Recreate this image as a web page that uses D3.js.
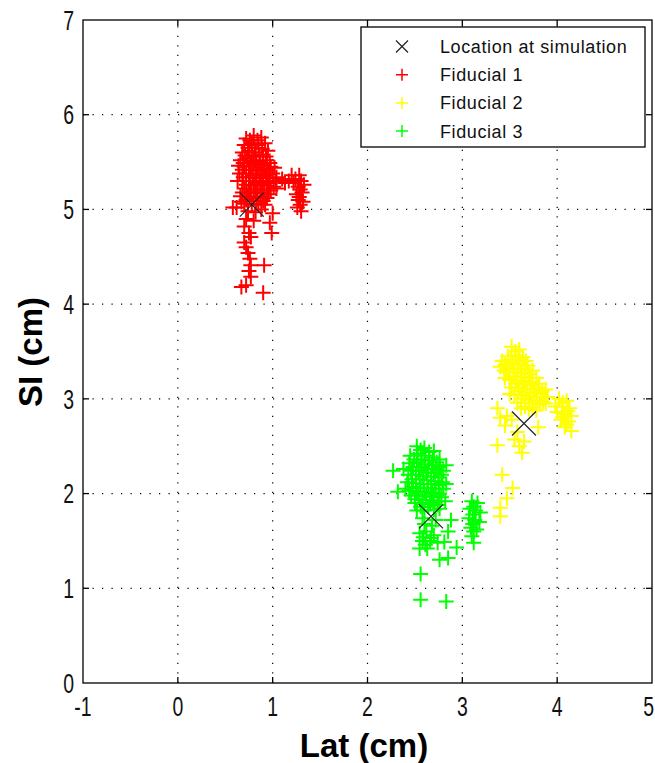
<!DOCTYPE html>
<html><head><meta charset="utf-8">
<script src="https://cdn.jsdelivr.net/npm/d3@7"></script>
<style>body{margin:0;background:#fff}svg{display:block}</style>
</head><body>
<svg id="c" width="655" height="763"></svg>
<script>
// ---- data ----
const xTicks = [-1, 0, 1, 2, 3, 4, 5];
const yTicks = [0, 1, 2, 3, 4, 5, 6, 7];
const legendLabels = ["Location at simulation", "Fiducial 1", "Fiducial 2", "Fiducial 3"];
const simLocations = [[0.78, 5.05], [3.65, 2.74], [2.67, 1.76]];
const fiducial1 = [
 [0.72,5.75],[0.80,5.78],[0.88,5.76],[0.92,5.70],[0.70,5.68],[0.78,5.70],[0.85,5.68],[0.95,5.62],
 [0.68,5.60],[0.75,5.62],[0.82,5.60],[0.90,5.58],[0.66,5.52],[0.73,5.54],[0.80,5.52],[0.87,5.50],
 [0.94,5.52],[0.70,5.45],[0.77,5.46],[0.84,5.44],[0.91,5.42],[0.98,5.45],[0.65,5.38],[0.72,5.38],
 [0.79,5.36],[0.86,5.38],[0.93,5.36],[1.00,5.38],[0.68,5.30],[0.75,5.30],[0.82,5.28],[0.89,5.30],
 [0.96,5.28],[1.03,5.30],[1.10,5.32],[1.17,5.30],[0.70,5.22],[0.77,5.22],[0.84,5.20],[0.91,5.22],
 [0.98,5.20],[0.66,5.14],[0.73,5.14],[0.80,5.12],[0.87,5.14],[0.94,5.12],[0.70,5.06],[0.78,5.05],
 [0.85,5.06],[0.92,5.05],[0.62,5.02],[0.74,4.98],[0.82,4.97],[0.88,5.00],
 [0.76,5.73],[0.84,5.73],[0.74,5.65],[0.81,5.65],[0.89,5.64],[0.71,5.57],[0.78,5.57],[0.86,5.56],
 [0.93,5.56],[0.69,5.49],[0.76,5.50],[0.83,5.48],[0.90,5.47],[0.97,5.49],[0.68,5.42],[0.75,5.42],
 [0.82,5.41],[0.88,5.41],[0.95,5.41],[0.69,5.34],[0.76,5.34],[0.83,5.33],[0.90,5.34],[0.97,5.33],
 [1.04,5.34],[1.13,5.28],[0.72,5.26],[0.80,5.25],[0.87,5.26],[0.94,5.25],[1.01,5.24],[0.68,5.18],
 [0.75,5.18],[0.82,5.17],[0.89,5.18],[0.96,5.16],[0.72,5.10],[0.83,5.09],[0.90,5.09],[0.67,5.08],
 [0.64,5.46],[0.63,5.30],[1.02,5.44],[1.04,5.22],
 [1.24,5.32],[1.30,5.30],[1.27,5.24],[1.33,5.26],[1.25,5.16],[1.31,5.18],[1.27,5.10],[1.32,5.08],
 [1.26,5.02],[1.30,4.98],[1.20,5.36],[1.28,5.36],[1.22,5.28],[1.29,5.21],[1.28,5.13],[1.29,5.05],
 [0.58,5.02],[1.00,4.96],[0.70,4.82],[0.97,4.86],[0.99,4.75],[0.77,4.71],[0.70,4.65],[0.74,4.54],
 [0.77,4.41],[0.91,4.41],[0.77,4.29],[0.67,4.18],[0.90,4.12],[0.72,4.90],[0.80,4.88],[0.75,4.75],
 [0.72,4.60],[0.76,4.48],[0.75,4.35],[0.72,4.20]
];
const fiducial2 = [
 [3.52,3.55],[3.60,3.52],[3.48,3.45],[3.56,3.46],[3.64,3.44],[3.45,3.36],[3.53,3.38],[3.61,3.36],
 [3.69,3.35],[3.74,3.30],[3.47,3.28],[3.55,3.28],[3.63,3.27],[3.71,3.26],[3.50,3.20],[3.58,3.20],
 [3.66,3.19],[3.74,3.18],[3.81,3.16],[3.52,3.12],[3.60,3.12],[3.68,3.11],[3.76,3.10],[3.84,3.08],
 [3.55,3.04],[3.63,3.04],[3.71,3.03],[3.79,3.02],[3.86,3.02],[3.58,2.96],[3.66,2.96],[3.74,2.95],
 [3.82,2.94],[3.62,2.90],[3.70,2.89],[3.78,2.88],
 [3.56,3.50],[3.51,3.41],[3.59,3.41],[3.67,3.40],[3.49,3.32],[3.58,3.32],[3.66,3.31],[3.72,3.22],
 [3.54,3.24],[3.62,3.23],[3.70,3.22],[3.78,3.22],[3.56,3.16],[3.64,3.15],[3.72,3.14],[3.80,3.12],
 [3.59,3.08],[3.67,3.07],[3.75,3.06],[3.83,3.05],[3.62,3.00],[3.70,2.99],[3.78,2.98],[3.85,2.97],
 [3.66,2.92],[3.74,2.91],[3.44,3.30],[3.42,3.40],[3.88,3.10],[3.40,3.34],[3.45,3.22],[3.90,3.02],
 [3.88,2.95],[3.50,3.05],
 [4.02,3.00],[4.10,2.98],[4.05,2.92],[4.13,2.90],[4.00,2.86],[4.08,2.84],[4.15,2.82],[4.04,2.78],
 [4.12,2.76],[4.08,2.70],[4.15,2.66],[3.98,2.92],[4.06,2.96],[4.11,2.87],[4.06,2.81],[4.10,2.73],
 [3.37,2.90],[3.37,2.51],[3.45,2.72],[3.55,2.57],[3.63,2.43],[3.42,2.20],[3.53,2.06],[3.47,1.95],
 [3.40,1.85],[3.40,1.76],[3.80,2.70],[3.47,2.82],[3.58,2.65],[3.60,2.50],[3.65,2.55],[3.52,2.78],
 [3.40,2.80]
];
const fiducial3 = [
 [2.52,2.50],[2.60,2.48],[2.70,2.45],[2.45,2.40],[2.53,2.42],[2.61,2.40],[2.69,2.38],[2.76,2.36],
 [2.44,2.32],[2.52,2.33],[2.60,2.31],[2.68,2.30],[2.76,2.28],[2.46,2.24],[2.54,2.24],[2.62,2.22],
 [2.70,2.22],[2.78,2.20],[2.47,2.15],[2.55,2.15],[2.63,2.14],[2.71,2.13],[2.79,2.12],[2.48,2.07],
 [2.56,2.06],[2.64,2.06],[2.72,2.05],[2.80,2.05],[2.46,1.98],[2.54,1.98],[2.62,1.97],[2.70,1.97],
 [2.78,1.96],[2.50,1.90],[2.58,1.89],[2.66,1.90],[2.74,1.88],[2.52,1.82],[2.60,1.82],[2.76,1.84],
 [2.56,2.46],[2.65,2.44],[2.49,2.36],[2.57,2.36],[2.65,2.35],[2.73,2.33],[2.48,2.28],[2.56,2.28],
 [2.64,2.26],[2.72,2.26],[2.80,2.24],[2.43,2.20],[2.51,2.20],[2.59,2.18],[2.67,2.18],[2.75,2.17],
 [2.51,2.11],[2.59,2.10],[2.67,2.10],[2.75,2.09],[2.83,2.10],[2.44,2.03],[2.52,2.02],[2.60,2.02],
 [2.68,2.01],[2.76,2.00],[2.50,1.94],[2.58,1.93],[2.66,1.93],[2.74,1.92],[2.82,1.92],[2.56,1.86],
 [2.64,1.86],[2.70,1.83],[2.42,2.12],[2.83,2.30],
 [2.55,1.58],[2.62,1.60],[2.70,1.56],[2.58,1.50],[2.66,1.50],[2.74,1.48],[2.55,1.42],[2.63,1.42],
 [2.60,1.68],[2.68,1.66],[2.72,1.72],[2.58,1.74],[2.59,1.54],[2.67,1.53],[2.61,1.46],
 [3.10,1.92],[3.16,1.90],[3.08,1.84],[3.14,1.82],[3.19,1.80],[3.07,1.74],[3.13,1.72],[3.18,1.70],
 [3.09,1.64],[3.15,1.62],[3.10,1.55],[3.12,1.48],[3.12,1.86],[3.11,1.78],[3.11,1.68],[3.12,1.60],
 [2.27,2.24],[2.32,2.02],[2.56,1.15],[2.56,0.88],[2.83,0.86],[2.76,1.30],[2.85,1.32],[2.94,1.43],
 [2.81,1.49],[2.40,2.05],[2.38,2.26],[2.85,1.60],[2.88,1.72]
];
const seriesColors = ["#ff0000", "#ffff00", "#00ff00"];

// ---- layout ----
const svg = d3.select("#c");
const L = 83, R = 652, T = 20, B = 683;
const x = d3.scaleLinear().domain([-1, 5]).range([L, R]);
const y = d3.scaleLinear().domain([0, 7]).range([B, T]);
const FONT = "'Liberation Sans', Arial, sans-serif";

// grid
const grid = svg.append("g").attr("stroke", "#000").attr("stroke-width", 1.2)
  .attr("stroke-dasharray", "1.2,8.3");
xTicks.slice(1, -1).forEach(t => grid.append("line")
  .attr("x1", x(t)).attr("x2", x(t)).attr("y1", B).attr("y2", T));
yTicks.slice(1, -1).forEach(t => grid.append("line")
  .attr("x1", L).attr("x2", R).attr("y1", y(t)).attr("y2", y(t)));

// series (+ markers)
function drawPlus(g, data, color, h, sw) {
  g.selectAll("path.p").data(data).enter().append("path")
    .attr("d", d => `M${x(d[0]) - h},${y(d[1])}H${x(d[0]) + h}M${x(d[0])},${y(d[1]) - h}V${y(d[1]) + h}`)
    .attr("stroke", color).attr("stroke-width", sw).attr("fill", "none");
}
[fiducial1, fiducial2, fiducial3].forEach((s, i) => {
  const g = svg.append("g");
  drawPlus(g, s, seriesColors[i], 7.5, 2);
});

// simulation locations (x markers)
const xg = svg.append("g");
xg.selectAll("path").data(simLocations).enter().append("path")
  .attr("d", d => {
    const cx = x(d[0]), cy = y(d[1]), h = 12;
    return `M${cx - h},${cy - h}L${cx + h},${cy + h}M${cx - h},${cy + h}L${cx + h},${cy - h}`;
  })
  .attr("stroke", "#222").attr("stroke-width", 1.2).attr("fill", "none");

// axes box + ticks
const ax = svg.append("g").attr("stroke", "#000").attr("stroke-width", 1.3).attr("fill", "none");
ax.append("rect").attr("x", L).attr("y", T).attr("width", R - L).attr("height", B - T);
xTicks.slice(1, -1).forEach(t => {
  ax.append("line").attr("x1", x(t)).attr("x2", x(t)).attr("y1", B).attr("y2", B - 6);
  ax.append("line").attr("x1", x(t)).attr("x2", x(t)).attr("y1", T).attr("y2", T + 6);
});
yTicks.slice(1, -1).forEach(t => {
  ax.append("line").attr("x1", L).attr("x2", L + 6).attr("y1", y(t)).attr("y2", y(t));
  ax.append("line").attr("x1", R).attr("x2", R - 6).attr("y1", y(t)).attr("y2", y(t));
});

// tick labels (narrow tall font)
function label(tx, ty, str, anchor) {
  svg.append("g").attr("transform", `translate(${tx},${ty}) scale(0.72,1)`)
    .append("text").attr("x", 0).attr("y", 0).attr("dy", "0.36em")
    .attr("text-anchor", anchor).attr("font-family", FONT).attr("font-size", 27)
    .attr("fill", "#111").text(str);
}
xTicks.forEach((t, i) => {
  if (i === xTicks.length - 1) label(654, 706, String(t), "end");
  else label(x(t), 706, String(t), "middle");
});
yTicks.forEach(t => label(74, y(t), String(t), "end"));

// axis titles
svg.append("text").attr("x", 364).attr("y", 757).attr("text-anchor", "middle")
  .attr("font-family", FONT).attr("font-weight", "bold").attr("font-size", 33)
  .attr("fill", "#000").text("Lat (cm)");
svg.append("text").attr("transform", "translate(42,352) rotate(-90)").attr("text-anchor", "middle")
  .attr("font-family", FONT).attr("font-weight", "bold").attr("font-size", 33)
  .attr("fill", "#000").text("SI (cm)");

// legend
const lg = svg.append("g");
lg.append("rect").attr("x", 361).attr("y", 27).attr("width", 284).attr("height", 120)
  .attr("fill", "#fff").attr("stroke", "#000").attr("stroke-width", 1.3);
const legendColors = ["#222"].concat(seriesColors);
legendLabels.forEach((lab, i) => {
  const cy = 46.5 + i * 28.2, cx = 402;
  if (i === 0) {
    lg.append("path").attr("d", `M${cx - 6},${cy - 6}L${cx + 6},${cy + 6}M${cx - 6},${cy + 6}L${cx + 6},${cy - 6}`)
      .attr("stroke", legendColors[i]).attr("stroke-width", 1.2);
  } else {
    lg.append("path").attr("d", `M${cx - 6},${cy}H${cx + 6}M${cx},${cy - 6}V${cy + 6}`)
      .attr("stroke", legendColors[i]).attr("stroke-width", 1.5);
  }
  lg.append("text").attr("x", 440).attr("y", cy).attr("dy", "0.36em")
    .attr("font-family", FONT).attr("font-size", 18).attr("letter-spacing", 0.6)
    .attr("fill", "#111").text(lab);
});
</script>
</body></html>
